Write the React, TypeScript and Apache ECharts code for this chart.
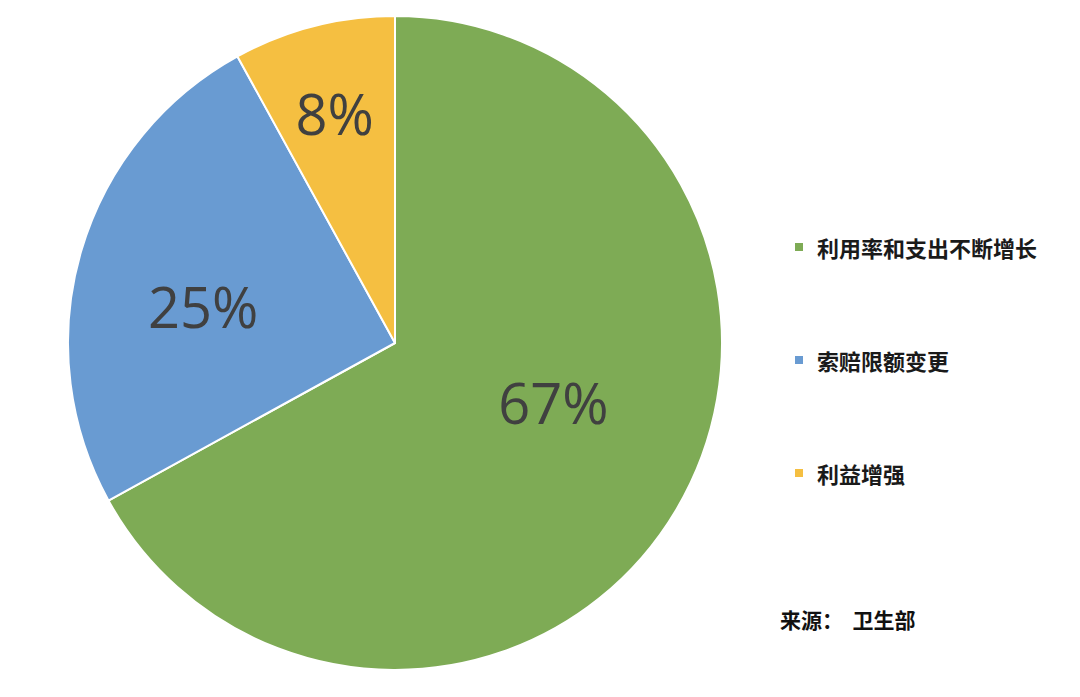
import { useEffect, useRef } from "react";
import * as echarts from "echarts";

const categories = ["利用率和支出不断增长", "索赔限额变更", "利益增强"];
const shares = [67, 25, 8];
const colors = ["#7EAB55", "#699BD2", "#F5BF41"];
// nudge the in-slice labels to where the original sits them
const labelNudge = [
  [15, -26],
  [-32, 9],
  [-19, -69],
];
const sourceNote = "来源：  卫生部";

const CJK = '"Noto Sans CJK SC", "Noto Sans", sans-serif';

export default function App() {
  const ref = useRef<HTMLDivElement>(null);

  useEffect(() => {
    document.body.style.margin = "0";
    if (!ref.current) return;
    const chart = echarts.init(ref.current, undefined, { renderer: "svg" });

    chart.setOption({
      animation: false,
      backgroundColor: "#ffffff",
      color: colors,
      legend: {
        orient: "vertical",
        left: 788,
        top: 230,
        icon: "rect",
        itemWidth: 10,
        itemHeight: 10,
        itemGap: 89,
        selectedMode: false,
        textStyle: {
          fontFamily: CJK,
          fontSize: 22,
          fontWeight: "bold",
          color: "#1a1a1a",
          lineHeight: 24,
          padding: [0, 0, 0, 8],
        },
        data: categories,
      },
      graphic: [
        {
          type: "text",
          left: 780,
          top: 608,
          style: {
            text: sourceNote,
            font: `bold 21px ${CJK}`,
            fill: "#111111",
          },
        },
      ],
      series: [
        {
          type: "pie",
          center: [395, 343],
          radius: 327,
          startAngle: 90,
          clockwise: true,
          itemStyle: { borderColor: "#ffffff", borderWidth: 2 },
          label: {
            position: "inside",
            formatter: "{c}%",
            fontFamily: '"Open Sans", sans-serif',
            fontSize: 56,
            color: "#404040",
          },
          labelLayout: (params: { dataIndex: number }) => ({
            dx: labelNudge[params.dataIndex][0],
            dy: labelNudge[params.dataIndex][1],
          }),
          emphasis: { disabled: true },
          data: categories.map((name, i) => ({ name, value: shares[i] })),
        },
      ],
    });

    return () => chart.dispose();
  }, []);

  return <div ref={ref} style={{ width: 1080, height: 697 }} />;
}
